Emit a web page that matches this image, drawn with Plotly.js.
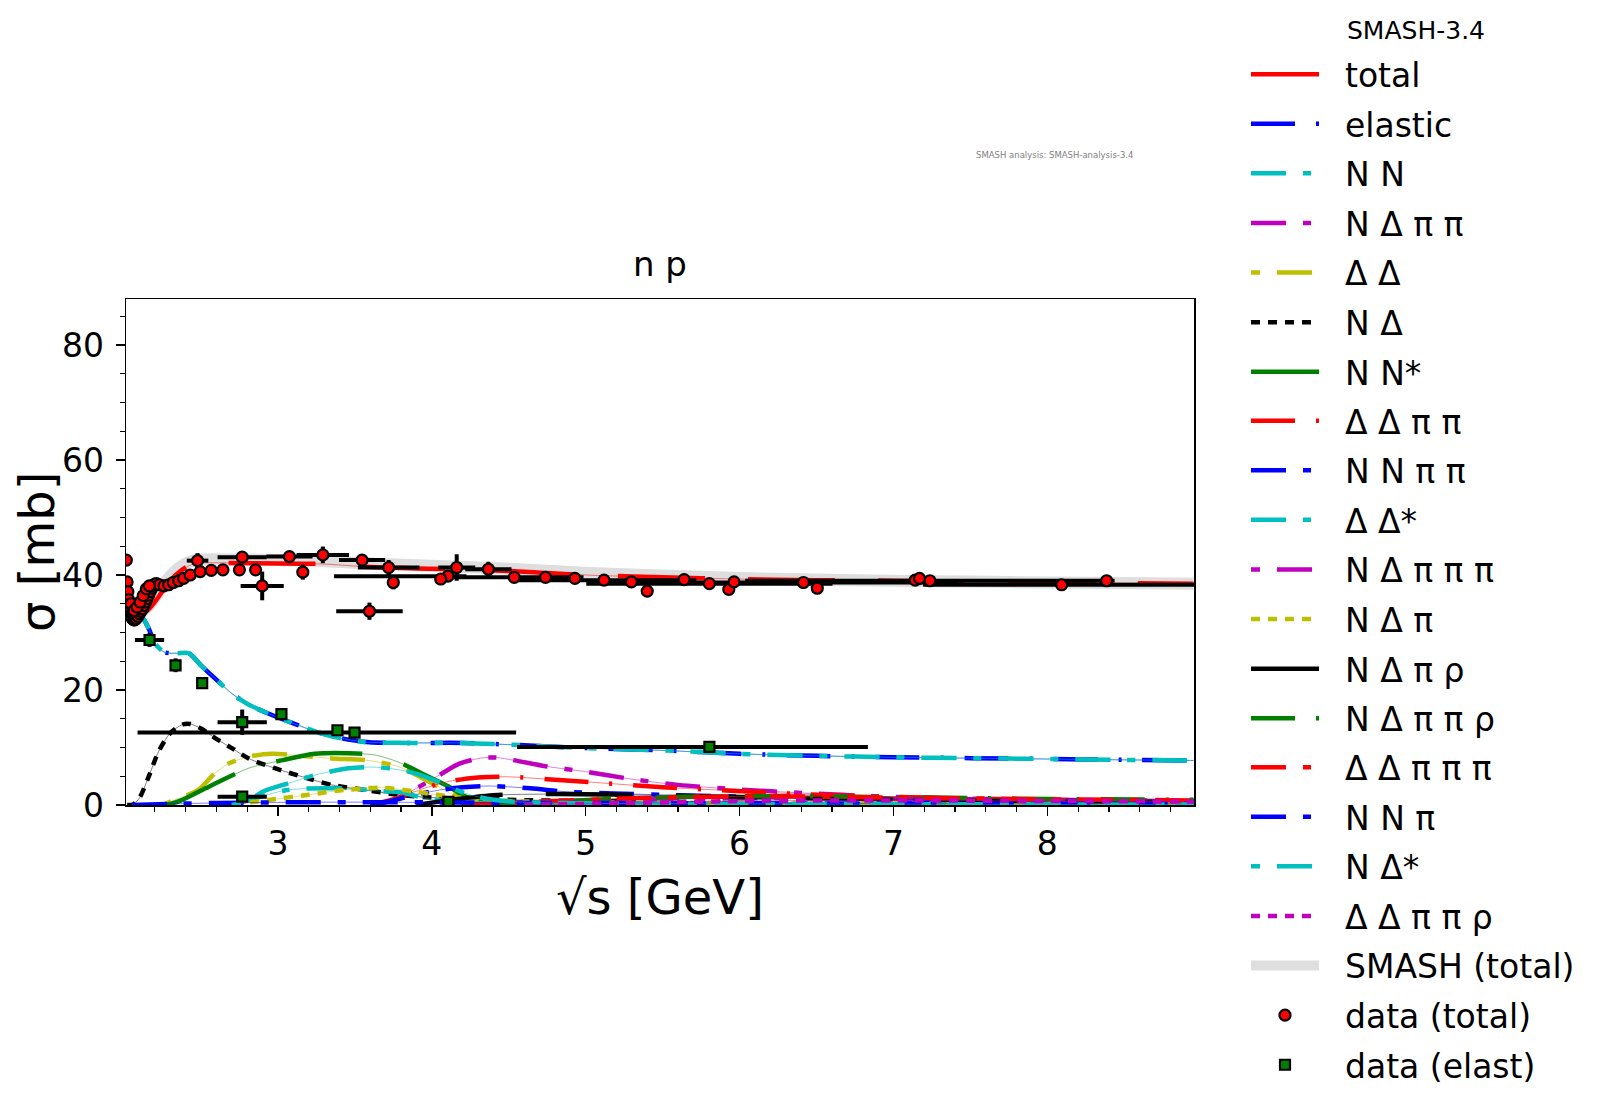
<!DOCTYPE html>
<html><head><meta charset="utf-8">
<script src="https://cdn.plot.ly/plotly-3.0.1.min.js"></script>
<style>html,body{margin:0;padding:0;background:#fff}</style>
</head><body><div id="chart" style="width:1600px;height:1104px"></div>
<script>
// ---------- model curves (sqrt(s) in GeV, sigma in mb) ----------
const totalX = [2.015,2.05,2.1,2.15,2.2,2.25,2.3,2.35,2.4,2.45,2.5,2.7,3.0,3.3,3.6,4.0,4.5,5.0,5.5,6.0,6.5,7.0,7.5,8.0,8.5,8.95];
const totalY = [35.5,33.8,33.2,33.8,35.3,37.2,39.0,40.3,41.3,41.9,42.1,42.1,42.0,41.9,41.4,41.1,40.7,40.0,39.6,39.3,39.1,39.0,38.8,38.7,38.6,38.5];
const smashTotalY = [36.0,34.3,33.6,34.3,36.0,38.0,39.8,41.1,42.0,42.5,42.7,42.7,42.6,42.4,42.0,41.6,41.1,40.4,39.9,39.5,39.2,39.0,38.85,38.7,38.6,38.5];

const elasticX = [2.015,2.05,2.1,2.13,2.16,2.21,2.26,2.3,2.35,2.42,2.5,2.6,2.7,2.8,2.93,3.1,3.3,3.55,3.85,4.2,4.5,5.0,5.5,6.0,6.5,7.0,7.5,8.0,8.5,8.95];
const elasticY = [35.2,34.3,33.2,32.2,30.7,27.8,26.6,26.4,26.4,26.4,24.3,21.8,19.4,17.6,16.0,14.2,12.3,11.0,10.8,10.8,10.5,9.9,9.5,8.9,8.55,8.3,8.15,8.0,7.85,7.75];
const nnY = [35.2,34.3,33.2,32.2,30.7,27.8,26.6,26.4,26.4,26.4,24.3,21.8,19.4,17.6,16.0,14.2,12.3,11.0,10.8,10.8,10.5,9.9,9.5,8.9,8.55,8.3,8.15,8.0,7.85,7.75];

const nDeltaX = [2.02,2.06,2.1,2.16,2.225,2.3,2.38,2.43,2.5,2.6,2.7,2.81,2.98,3.16,3.35,3.57,3.78,4.0,4.5,5.0,5.5,6.0,7.0,8.0,8.95];
const nDeltaY = [0,0.1,1.2,4.9,9.3,12.5,14.0,14.1,13.3,11.5,9.9,8.1,6.4,4.9,3.5,2.6,1.8,1.3,0.9,0.7,0.55,0.45,0.35,0.25,0.2];

const nnStarX = [2.2,2.3,2.38,2.53,2.66,2.81,3.03,3.24,3.46,3.63,3.78,3.98,4.11,4.22,4.35,4.6,5.0,6.0,7.0,8.0,8.95];
const nnStarY = [0,0.2,0.9,2.9,4.6,6.4,7.8,8.9,9.0,8.7,7.5,4.9,3.2,1.45,0.5,0.2,0.15,0.1,0.1,0.05,0.05];

const dDeltaX = [2.25,2.33,2.48,2.59,2.68,2.81,2.96,3.13,3.35,3.57,3.78,4.0,4.15,4.3,4.5,5.0,6.0,7.0,8.0,8.95];
const dDeltaY = [0,0.9,2.6,5.5,7.2,8.4,8.9,8.6,8.1,7.8,6.7,3.8,1.7,0.8,0.5,0.35,0.25,0.2,0.15,0.1];

const nDeltaPiX = [2.6,2.8,2.95,3.2,3.43,3.68,3.9,4.14,4.4,4.8,5.5,6.5,7.5,8.95];
const nDeltaPiY = [0,0.4,0.9,1.8,2.6,3.0,2.3,1.4,0.8,0.5,0.4,0.35,0.3,0.25];

const nDeltaStarX = [2.7,2.8,2.9,3.07,3.24,3.46,3.6,3.68,3.85,4.02,4.22,4.4,4.6,5.0,6.0,7.0,8.0,8.95];
const nDeltaStarY = [0,0.6,2.3,3.8,5.2,6.4,6.6,6.5,5.8,4.3,2.0,0.9,0.5,0.3,0.2,0.15,0.1,0.1];

const dDeltaStarX = [2.7,2.82,3.06,3.43,3.68,3.8,3.95,4.15,4.4,5.0,6.0,7.0,8.0,8.95];
const dDeltaStarY = [0,0.9,2.6,2.9,2.4,2.2,1.2,0.5,0.3,0.2,0.15,0.1,0.1,0.1];

const nDeltaPiPiX = [3.6,3.75,3.88,4.03,4.18,4.33,4.42,4.53,4.75,5.0,5.3,5.6,6.0,6.4,6.9,7.5,8.0,8.5,8.95];
const nDeltaPiPiY = [0,0.8,2.6,4.9,7.2,8.2,8.25,7.8,6.7,5.8,4.5,3.5,2.7,2.1,1.5,1.1,0.9,0.75,0.65];

const dDeltaPiPiX = [3.6,3.77,3.95,4.1,4.3,4.5,4.75,5.07,5.5,5.94,6.4,7.0,7.5,8.0,8.5,8.95];
const dDeltaPiPiY = [0,1.15,2.9,4.05,4.8,4.9,4.5,3.9,3.1,2.5,1.9,1.4,1.1,0.9,0.75,0.65];

const nnPiPiX = [3.6,3.75,3.88,4.05,4.2,4.38,4.64,4.88,5.18,5.6,6.05,6.5,7.0,7.5,8.0,8.5,8.95];
const nnPiPiY = [0,0.8,1.7,2.6,3.1,3.3,2.9,2.3,2.0,1.7,1.45,1.2,1.0,0.85,0.75,0.65,0.55];

const nDeltaPiRhoX = [3.9,4.1,4.4,4.8,5.2,6.0,7.0,8.0,8.95];
const nDeltaPiRhoY = [0,0.8,1.7,1.9,1.8,1.4,1.0,0.7,0.55];

const nDeltaPiPiRhoX = [4.3,4.8,5.3,5.8,6.5,7.2,8.0,8.95];
const nDeltaPiPiRhoY = [0,0.6,1.2,1.5,1.5,1.3,1.05,0.9];

const dDeltaPiPiPiX = [4.2,4.8,5.5,6.2,7.0,8.0,8.95];
const dDeltaPiPiPiY = [0,0.7,1.3,1.5,1.3,1.0,0.8];

const nDeltaPiPiPiX = [4.2,4.8,5.5,6.2,7.0,8.0,8.95];
const nDeltaPiPiPiY = [0,0.5,1.0,1.2,1.1,0.9,0.75];

const nnPiX = [2.05,2.3,2.6,3.0,3.5,4.0,5.0,6.0,7.0,8.0,8.95];
const nnPiY = [0,0.2,0.35,0.45,0.5,0.45,0.35,0.3,0.25,0.2,0.2];

const dDeltaPiPiRhoX = [4.6,5.2,6.0,7.0,8.0,8.95];
const dDeltaPiPiRhoY = [0,0.3,0.7,0.8,0.7,0.6];

// ---------- experimental data ----------
const totPlainX = [2.015,2.02,2.025,2.03,2.035,2.04,2.045,2.05,2.055,2.06,2.065,2.07,2.08,2.09,2.1,2.11,2.12,2.13,2.14,2.15,2.16,2.17,2.18,2.19,2.2,2.21,2.23,2.26,2.29,2.32,2.355,2.387,2.43,2.495,2.567,2.643,2.75,2.855,4.058,4.739,4.93,5.297,5.4,5.64,5.93,5.964,6.505,7.141,7.169,8.385,2.045,2.065,2.085,2.105,2.125,2.145,2.165];
const totPlainY = [42.6,38.8,37.1,35.7,34.5,33.7,33.1,32.7,32.4,32.3,32.2,32.2,32.4,32.8,33.3,33.7,34.1,34.7,35.3,35.9,36.5,37.1,37.7,38.1,38.4,38.5,38.3,38.1,38.3,38.7,39.0,39.4,40.0,40.6,40.8,40.9,40.9,40.9,39.3,39.6,39.4,38.8,37.2,39.2,37.5,38.8,37.7,39.1,39.4,39.0,35.0,33.8,34.4,35.3,36.4,37.6,38.1];

const totBarX      = [2.478,2.768,2.898,3.075,3.162,3.292,3.547,3.595,3.72,3.75,4.105,4.162,4.368,4.536,5.119,5.804,6.415,7.237,8.093];
const totBarY      = [42.5,43.1,38.1,43.2,40.5,43.5,42.6,33.7,41.3,38.7,39.8,41.3,41.0,39.6,39.1,38.5,38.7,39.0,38.3];
const totBarXplus  = [0.07,0.16,0.14,0.15,0,0.17,0.15,0.216,0.2,0,0.12,0.12,0.15,0.45,0.6,0.8,1.0,1.2,0.9];
const totBarXminus = [0.07,0.16,0.14,0.15,0,0.17,0.15,0.216,0.2,0,0.74,0.12,0.15,0.45,0.6,0.8,1.0,1.2,0.9];
const totBarYerr   = [1.3,0.4,2.5,0.3,1.3,1.45,0.4,1.5,1.3,1.2,0,2.3,1.3,0,0,0,0,0,0];

const elastX      = [2.166,2.335,2.508,2.768,2.768,3.023,3.387,3.498,4.108,5.804];
const elastY      = [28.7,24.3,21.2,14.4,1.45,15.8,13.0,12.6,0.55,10.1];
const elastXplus  = [0.095,0,0,0.16,0.16,0,0,1.05,0,1.03];
const elastXminus = [0.095,0,0,0.16,0.16,0,0,1.41,0,1.25];
const elastYerr   = [1.2,1.2,0,2.2,0,0,0,0,0,0.5];

// ---------- styles ----------
const RED='#ff0000', BLUE='#0000ff', CYAN='#00bfbf', MAG='#bf00bf', YEL='#bfbf00', BLK='#000000', GRN='#008000';
const D_SOLID='87px,43px', D_LDOT='44px,21px,3px,21px', D_LS='35px,17px,8px,17px', D_SL='9px,17px,35px,17px', D_SHORT='9px,8px';
const PAD = '\u00a0\u00a0';

// [label, x, y, colour, dash, legend box]
const curves = [
  ['total', totalX, totalY, RED, D_SOLID, 'legend'],
  ['elastic', elasticX, elasticY, BLUE, D_LDOT, 'legend'],
  ['N N', elasticX, nnY, CYAN, D_LS, 'legend'],
  ['N Δ π π', nDeltaPiPiX, nDeltaPiPiY, MAG, D_LS, 'legend'],
  ['Δ Δ', dDeltaX, dDeltaY, YEL, D_SL, 'legend'],
  ['N Δ', nDeltaX, nDeltaY, BLK, D_SHORT, 'legend'],
  ['N N*', nnStarX, nnStarY, GRN, D_SOLID, 'legend'],
  ['Δ Δ π π', dDeltaPiPiX, dDeltaPiPiY, RED, D_LDOT, 'legend2'],
  ['N N π π', nnPiPiX, nnPiPiY, BLUE, D_LS, 'legend2'],
  ['Δ Δ*', dDeltaStarX, dDeltaStarY, CYAN, D_LS, 'legend2'],
  ['N Δ π π π', nDeltaPiPiPiX, nDeltaPiPiPiY, MAG, D_SL, 'legend2'],
  ['N Δ π', nDeltaPiX, nDeltaPiY, YEL, D_SHORT, 'legend2'],
  ['N Δ π ρ', nDeltaPiRhoX, nDeltaPiRhoY, BLK, D_SOLID, 'legend2'],
  ['N Δ π π ρ', nDeltaPiPiRhoX, nDeltaPiPiRhoY, GRN, D_LDOT, 'legend2'],
  ['Δ Δ π π π', dDeltaPiPiPiX, dDeltaPiPiPiY, RED, D_LS, 'legend3'],
  ['N N π', nnPiX, nnPiY, BLUE, D_LS, 'legend3'],
  ['N Δ*', nDeltaStarX, nDeltaStarY, CYAN, D_SL, 'legend3'],
  ['Δ Δ π π ρ', dDeltaPiPiRhoX, dDeltaPiPiRhoY, MAG, D_SHORT, 'legend3']
];

const traces = [];
traces.push({x: totalX, y: smashTotalY, mode:'lines', name:PAD+'SMASH (total)', legend:'legend3', legendgroup:'smash', legendrank: 19,
  line:{color:'rgb(222,222,222)', width:12, shape:'spline', smoothing:0.8}, hoverinfo:'skip'});
curves.forEach((c, i) => {
  traces.push({x:c[1], y:c[2], mode:'lines', name:PAD+c[0], legend:c[5], legendgroup:'g'+i, showlegend:false,
    line:{color:c[3], width:1, shape:'spline', smoothing:0.8}, opacity:0.5, hoverinfo:'skip'});
  traces.push({x:c[1], y:c[2], mode:'lines', name:PAD+c[0], legend:c[5], legendgroup:'g'+i, legendrank: i+1,
    line:{color:c[3], width:4.5, dash:c[4], shape:'spline', smoothing:0.8}, hoverinfo:'skip'});
});
traces.push({x: totBarX, y: totBarY, mode:'markers', name:PAD+'data (total)', legend:'legend3', legendgroup:'dt', showlegend:false,
  marker:{color:RED, size:11, line:{color:'black', width:2.2}},
  error_x:{type:'data', symmetric:false, array: totBarXplus, arrayminus: totBarXminus, color:'black', thickness:4, width:0},
  error_y:{type:'data', array: totBarYerr, color:'black', thickness:4, width:0}});
traces.push({x: totPlainX, y: totPlainY, mode:'markers', name:PAD+'data (total)', legend:'legend3', legendgroup:'dt', legendrank: 20,
  marker:{color:RED, size:11, line:{color:'black', width:2.2}}});
traces.push({x: elastX, y: elastY, mode:'markers', name:PAD+'data (elast)', legend:'legend3', legendgroup:'de', legendrank: 21,
  marker:{color:GRN, symbol:'square', size:10, line:{color:'black', width:2.2}},
  error_x:{type:'data', symmetric:false, array: elastXplus, arrayminus: elastXminus, color:'black', thickness:4, width:0},
  error_y:{type:'data', array: elastYerr, color:'black', thickness:4, width:0}});

const F = 'DejaVu Sans';
const axisCommon = {ticks:'outside', ticklen:9, tickwidth:1.5, tickcolor:'black', showline:true, linecolor:'black',
  linewidth:1.5, mirror:true, showgrid:false, zeroline:false, tickfont:{size:33, family:F, color:'black'}};

// legend entry centres: first at ~74.7 px, step ~49.5 px; box top sits ~28.5 px above first centre
const legendBase = {xref:'container', yref:'container', x:1246/1600, xanchor:'left', yanchor:'top',
  font:{size:33, family:F, color:'black'}, itemwidth:68, tracegroupgap:3.7, bgcolor:'rgba(0,0,0,0)', borderwidth:0,
  traceorder:'grouped'};
function legendAt(firstIndex) {
  const topPx = 74.7 + 49.5 * firstIndex - 28.5;
  return Object.assign({}, legendBase, {y: 1 - topPx / 1104});
}

const layout = {
  width:1600, height:1104,
  margin:{l:126, r:406, t:299, b:299, pad:0},
  paper_bgcolor:'white', plot_bgcolor:'white',
  font:{family:F, color:'black'},
  title:{text:'n p', font:{size:34, family:F, color:'black'}, x:0.5, xref:'paper', y:1-264/1104, yref:'container', yanchor:'middle'},
  xaxis: Object.assign({}, axisCommon, {range:[2.013, 8.953], tick0:0, dtick:1,
    minor:{dtick:0.2, tick0:0, ticks:'outside', ticklen:5, tickwidth:1.2, tickcolor:'black', showgrid:false}}),
  yaxis: Object.assign({}, axisCommon, {range:[0, 88], tick0:0, dtick:20, ticklabelstandoff:5,
    minor:{dtick:5, tick0:0, ticks:'outside', ticklen:5, tickwidth:1.2, tickcolor:'black', showgrid:false}}),
  showlegend:true,
  legend: legendAt(0),
  legend2: legendAt(7),
  legend3: legendAt(14),
  annotations:[
    {text:'SMASH-3.4', xref:'paper', yref:'paper', x:(1345-126)/1068, y:(805-30)/506, xanchor:'left', yanchor:'middle',
     showarrow:false, font:{size:25, family:F, color:'black'}},
    {text:'SMASH analysis: SMASH-analysis-3.4', xref:'paper', yref:'paper', x:(1054-126)/1068, y:(805-155)/506,
     xanchor:'center', yanchor:'middle', showarrow:false, font:{size:8.5, family:F, color:'#7f7f7f'}},
    {text:'√s [GeV]', xref:'paper', yref:'paper', x:0.5, y:(805-897)/506, xanchor:'center', yanchor:'middle',
     showarrow:false, font:{size:48, family:F, color:'black'}},
    {text:'σ [mb]', xref:'paper', yref:'paper', x:(37-126)/1068, y:0.5, xanchor:'center', yanchor:'middle', textangle:-90,
     showarrow:false, font:{size:48, family:F, color:'black'}}
  ]
};

Plotly.newPlot('chart', traces, layout, {displayModeBar:false, staticPlot:true});
</script></body></html>
